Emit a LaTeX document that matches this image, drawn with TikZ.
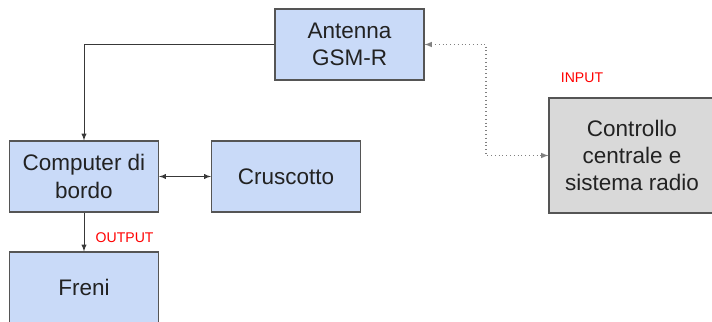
\documentclass[tikz,border=0pt]{standalone}
\usepackage{fontspec}
\setmainfont{Liberation Sans}
\definecolor{boxblue}{HTML}{C9DAF8}
\definecolor{boxgray}{HTML}{D9D9D9}
\definecolor{edge}{HTML}{555555}
\definecolor{ink}{HTML}{222222}
\tikzset{
  blk/.style={draw=edge, line width=0.8pt, fill=boxblue, text=ink, align=center,
    minimum width=3.725cm, minimum height=1.775cm, inner sep=0pt,
    font=\fontsize{16}{19.5}\selectfont},
  lbl/.style={text=red, font=\fontsize{10}{12}\selectfont, inner sep=0pt},
  wire/.style={draw=ink!90, line width=0.7pt}
}
\begin{document}
\begin{tikzpicture}[>=latex, x=0.025cm, y=-0.025cm]
\useasboundingbox (0,0) rectangle (712,322);

\node[blk] (ant) at (349.5,44.5) {Antenna\\GSM-R};
\node[blk] (comp) at (84,176.5) {Computer di\\bordo};
\node[blk] (crus) at (286,176.5) {Cruscotto};
\node[blk] (freni) at (84,287.5) {Freni};
\node[blk, fill=boxgray, minimum width=4.15cm, minimum height=2.875cm]
  (ctrl) at (632,155.5) {Controllo\\centrale e\\sistema radio};

\node[lbl] (inlbl) at (582,78) {INPUT};
\coordinate (knee) at (486,44.5);

% links
\draw[wire,->] (ant.west) -| (comp.north);
\draw[wire,<->] (comp) -- (crus);
\draw[wire,->] (comp) -- node[lbl, pos=.65, right=8pt] (outlbl) {OUTPUT} (freni);
\draw[wire, draw=gray, dotted, line width=0.8pt, <->] (ant.east) -- (knee) |- (ctrl.west);

\end{tikzpicture}
\end{document}
